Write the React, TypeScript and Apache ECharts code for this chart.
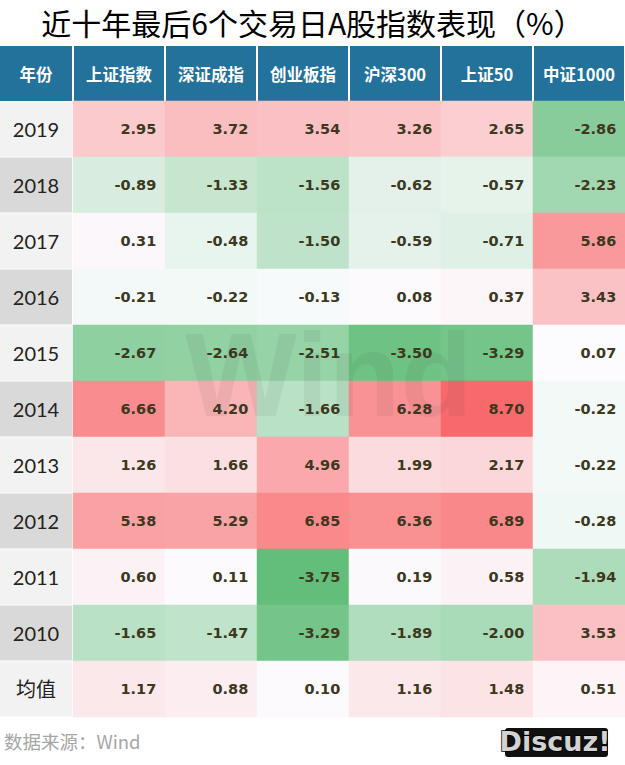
import React, { useEffect, useRef } from "react";
import * as echarts from "echarts";

const indexNames = ["上证指数", "深证成指", "创业板指", "沪深300", "上证50", "中证1000"];
const rowLabels = ["2019", "2018", "2017", "2016", "2015", "2014", "2013", "2012", "2011", "2010", "均值"];

const y2019 = [2.95, 3.72, 3.54, 3.26, 2.65, -2.86];
const y2018 = [-0.89, -1.33, -1.56, -0.62, -0.57, -2.23];
const y2017 = [0.31, -0.48, -1.5, -0.59, -0.71, 5.86];
const y2016 = [-0.21, -0.22, -0.13, 0.08, 0.37, 3.43];
const y2015 = [-2.67, -2.64, -2.51, -3.5, -3.29, 0.07];
const y2014 = [6.66, 4.2, -1.66, 6.28, 8.7, -0.22];
const y2013 = [1.26, 1.66, 4.96, 1.99, 2.17, -0.22];
const y2012 = [5.38, 5.29, 6.85, 6.36, 6.89, -0.28];
const y2011 = [0.6, 0.11, -3.75, 0.19, 0.58, -1.94];
const y2010 = [-1.65, -1.47, -3.29, -1.89, -2.0, 3.53];
const avgRow = [1.17, 0.88, 0.1, 1.16, 1.48, 0.51];

const tableRows = [y2019, y2018, y2017, y2016, y2015, y2014, y2013, y2012, y2011, y2010, avgRow];

const GREEN = [99, 190, 123];
const WHITE = [252, 252, 255];
const RED = [248, 105, 107];
const HEADER_BLUE = "#22729c";

function mix(a: number[], b: number[], t: number): string {
  const c = a.map((x, i) => Math.round(x + (b[i] - x) * t));
  return `rgb(${c[0]},${c[1]},${c[2]})`;
}

export default function App() {
  const ref = useRef<HTMLDivElement>(null);
  useEffect(() => {
    if (!ref.current) return;
    const chart = echarts.init(ref.current, null, { renderer: "svg" });
    const data: number[][] = [];
    tableRows.forEach((row, r) => row.forEach((v, c) => data.push([c, r, v])));
    const all = tableRows.flat();
    const vmin = Math.min(...all);
    const vmax = Math.max(...all);
    const N = 100;
    const colors: string[] = [];
    for (let i = 0; i <= N; i++) {
      const v = vmin + ((vmax - vmin) * i) / N;
      colors.push(v < 0 ? mix(WHITE, GREEN, v / vmin) : mix(WHITE, RED, v / vmax));
    }
    const cjk = "'Noto Sans CJK SC', 'DejaVu Sans', sans-serif";
    const yearStyle = {
      color: "#222",
      fontSize: 20,
      fontFamily: "Lato, 'Noto Sans CJK SC', sans-serif",
      width: 72,
      height: 55,
      lineHeight: 55,
      align: "center",
      verticalAlign: "middle",
    };
    chart.setOption({
      animation: false,
      backgroundColor: "#ffffff",
      title: {
        text: "近十年最后6个交易日A股指数表现（%）",
        left: "center",
        top: 2,
        textStyle: { fontSize: 30, fontWeight: "normal", color: "#000", fontFamily: cjk },
      },
      grid: { left: 73, top: 101, right: 0, bottom: 48, containLabel: false, outerBoundsMode: "none" },
      xAxis: {
        type: "category",
        data: indexNames,
        position: "top",
        axisLine: { show: false },
        axisTick: { show: false },
        splitLine: { show: false },
        axisLabel: {
          interval: 0,
          margin: 0,
          formatter: (v: string) => `{h|${v}}`,
          rich: {
            h: {
              backgroundColor: HEADER_BLUE,
              color: "#fff",
              fontWeight: "bold",
              fontSize: 16.5,
              fontFamily: cjk,
              width: 90,
              height: 55,
              lineHeight: 55,
              align: "center",
              verticalAlign: "middle",
            },
          },
        },
      },
      yAxis: {
        type: "category",
        data: rowLabels,
        inverse: true,
        axisLine: { show: false },
        axisTick: { show: false },
        splitLine: { show: false },
        axisLabel: {
          interval: 0,
          margin: 1,
          formatter: (v: string, i: number) => (i % 2 === 0 ? `{a|${v}}` : `{b|${v}}`),
          rich: {
            a: { ...yearStyle, backgroundColor: "#f2f2f2" },
            b: { ...yearStyle, backgroundColor: "#d9d9d9" },
          },
        },
      },
      visualMap: {
        show: false,
        type: "continuous",
        dimension: 2,
        min: vmin,
        max: vmax,
        inRange: { color: colors },
      },
      series: [
        {
          type: "heatmap",
          data,
          itemStyle: { borderWidth: 0 },
          emphasis: { disabled: true },
          label: {
            show: true,
            position: "insideRight",
            distance: 9,
            formatter: (p: any) => Number(p.value[2]).toFixed(2),
            fontFamily: "'DejaVu Sans', sans-serif",
            fontWeight: "bold",
            fontSize: 14.5,
            color: "#3d381e",
          },
        },
      ],
      graphic: [
        {
          type: "rect",
          shape: { x: 0, y: 46, width: 72, height: 55 },
          style: { fill: HEADER_BLUE },
        },
        {
          type: "text",
          x: 36,
          y: 73.5,
          style: {
            text: "年份",
            fill: "#fff",
            fontSize: 16.5,
            fontWeight: "bold",
            fontFamily: cjk,
            textAlign: "center",
            textVerticalAlign: "middle",
          },
        },
        {
          type: "text",
          x: 329,
          y: 375,
          z: 100,
          silent: true,
          style: {
            text: "Wind",
            fill: "rgba(60,60,60,0.07)",
            fontSize: 118,
            fontWeight: "bold",
            fontFamily: "'Liberation Sans', Arial, sans-serif",
            textAlign: "center",
            textVerticalAlign: "middle",
          },
        },
        {
          type: "text",
          x: 4,
          y: 741,
          style: {
            text: "数据来源：Wind",
            fill: "#a6a6a6",
            fontSize: 18.5,
            fontFamily: cjk,
            textAlign: "left",
            textVerticalAlign: "middle",
          },
        },
        {
          type: "rect",
          shape: { x: 505, y: 728, width: 103, height: 29, r: 3 },
          style: { fill: "#111" },
        },
        {
          type: "text",
          x: 555,
          y: 741,
          style: {
            text: "Discuz!",
            fill: "#d2d2d2",
            stroke: "#000",
            lineWidth: 1.5,
            fontSize: 27,
            fontWeight: "bold",
            fontFamily: "'DejaVu Sans', sans-serif",
            textAlign: "center",
            textVerticalAlign: "middle",
          },
        },
      ],
    });
    return () => chart.dispose();
  }, []);
  return (
    <div
      ref={ref}
      style={{ position: "absolute", left: 0, top: 0, width: 625, height: 765 }}
    />
  );
}
